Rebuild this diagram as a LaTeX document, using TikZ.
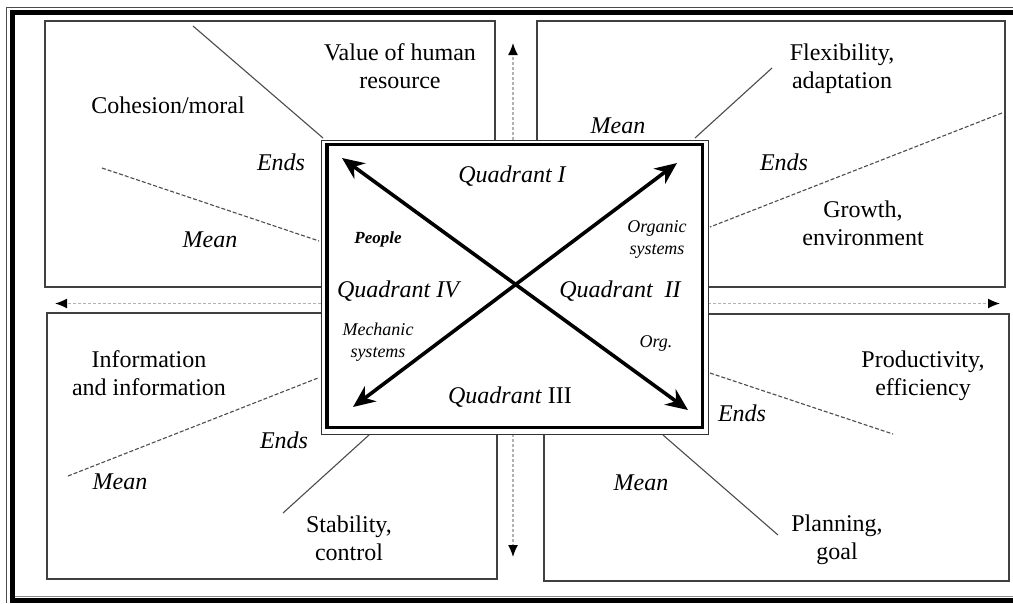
\documentclass[tikz,border=0pt]{standalone}
\usepackage{fontspec}
\setmainfont{Liberation Serif}
\usetikzlibrary{arrows.meta}
\begin{document}
\begin{tikzpicture}[x=1pt,y=-1pt,
  box/.style={draw=black!75, line width=1.4pt, inner sep=0pt, fill=white},
  lbl/.style={font=\fontsize{24}{28}\selectfont, align=center, anchor=base, inner sep=0pt},
  ital/.style={font=\fontsize{24}{28}\selectfont\itshape, align=center, anchor=base, inner sep=0pt},
  small/.style={font=\fontsize{18}{22}\selectfont\itshape, align=center, anchor=base, inner sep=0pt},
  sline/.style={draw=black!70, line width=1.1pt},
  dline/.style={draw=black!70, line width=1.1pt, dash pattern=on 4pt off 2pt},
  axis/.style={draw=black!30, line width=1.4pt, dash pattern=on 3pt off 2pt, -{Latex[length=12pt,width=10pt,black]}},
  diag/.style={line width=3.6pt, {Stealth[length=22pt,width=19pt,inset=7pt]}-{Stealth[length=22pt,width=19pt,inset=7pt]}}]
\useasboundingbox (0,0) rectangle (1013,603);
% outer frame
\draw[line width=1pt, black!70] (1020,7) -- (6.5,7) -- (6.5,603);
\draw[line width=5pt] (1020,12) -- (12.5,12) -- (12.5,600.5) -- (1020,600.5);
\draw[line width=0.8pt, black!45] (15,596) -- (1020,596);
% four boxes
\node[box, minimum width=450pt, minimum height=266pt] (tl) at (270,154) {};
\node[box, minimum width=468pt, minimum height=266pt] (tr) at (771,154) {};
\node[box, minimum width=450pt, minimum height=266pt] (bl) at (272,446) {};
\node[box, minimum width=465pt, minimum height=267pt] (br) at (776.5,447.5) {};
% lines inside boxes
\coordinate (tla) at (193,26);  \coordinate (tlb) at (323,138);
\coordinate (tlc) at (102,168); \coordinate (tld) at (319,241);
\coordinate (tra) at (772,68);  \coordinate (trb) at (695,138);
\coordinate (trc) at (1002,113); \coordinate (trd) at (710,227);
\coordinate (bla) at (68,476);  \coordinate (blb) at (318,378);
\coordinate (blc) at (283,513); \coordinate (bld) at (369,435);
\coordinate (bra) at (710,373); \coordinate (brb) at (893,434);
\coordinate (brc) at (663,435); \coordinate (brd) at (778,535);
\draw[sline] (tla) -- (tlb);
\draw[dline] (tlc) -- (tld);
\draw[sline] (tra) -- (trb);
\draw[dline] (trc) -- (trd);
\draw[dline] (bla) -- (blb);
\draw[sline] (blc) -- (bld);
\draw[dline] (bra) -- (brb);
\draw[sline] (brc) -- (brd);
% axes
\coordinate (yt0) at (513,140); \coordinate (yt1) at (513,43);
\coordinate (yb0) at (513,434); \coordinate (yb1) at (513,557);
\coordinate (xl0) at (321,303.5); \coordinate (xl1) at (55,303.5);
\coordinate (xr0) at (708,303.5); \coordinate (xr1) at (1000,303.5);
\draw[axis] (yt0) -- (yt1);
\draw[axis] (yb0) -- (yb1);
\draw[axis] (xl0) -- (xl1);
\draw[axis] (xr0) -- (xr1);
% centre box
\node[draw=black!80, line width=1pt, fill=white, inner sep=0pt, minimum width=387pt, minimum height=294pt] (ctrout) at (514.5,287) {};
\node[draw=black, line width=3.5pt, inner sep=0pt, minimum width=375.5pt, minimum height=283pt] (ctr) at (514.75,286) {};
\coordinate (nw) at (342,158); \coordinate (se) at (688,410);
\coordinate (ne) at (677,163); \coordinate (sw) at (353,407);
\draw[diag] (nw) -- (se);
\draw[diag] (ne) -- (sw);
% centre texts
\node[ital] (q1) at (512,182) {Quadrant I};
\node[ital] (q4) at (398,297) {Quadrant IV};
\node[ital] (q2) at (620,297) {Quadrant\ \ II};
\node[ital] (q3) at (510,403) {Quadrant \textup{III}};
\node[small, font=\fontsize{17}{20}\selectfont\bfseries\itshape] (people) at (378,243) {People};
\node[small] (organic) at (657,254) {Organic\\systems};
\node[small] (mech) at (378,357) {Mechanic\\systems};
\node[small] (org) at (656,347) {Org.};
% top-left texts
\node[lbl] (value) at (400,88) {Value of human\\resource};
\node[lbl] (cohesion) at (168,113) {Cohesion/moral};
\node[ital] (tlends) at (281,170) {Ends};
\node[ital] (tlmean) at (210,247) {Mean};
% top-right texts
\node[lbl] (flex) at (842,88) {Flexibility,\\adaptation};
\node[ital] (trmean) at (618,133) {Mean};
\node[ital] (trends) at (784,170) {Ends};
\node[lbl] (growth) at (863,245) {Growth,\\environment};
% bottom-left texts
\node[lbl] (info) at (149,395) {Information\\and information};
\node[ital] (blends) at (284,448) {Ends};
\node[ital] (blmean) at (120,489) {Mean};
\node[lbl] (stab) at (349,560) {Stability,\\control};
% bottom-right texts
\node[lbl] (prod) at (923,395) {Productivity,\\efficiency};
\node[ital] (brends) at (742,421) {Ends};
\node[ital] (brmean) at (641,490) {Mean};
\node[lbl] (plan) at (837,559) {Planning,\\goal};
\end{tikzpicture}
\end{document}
